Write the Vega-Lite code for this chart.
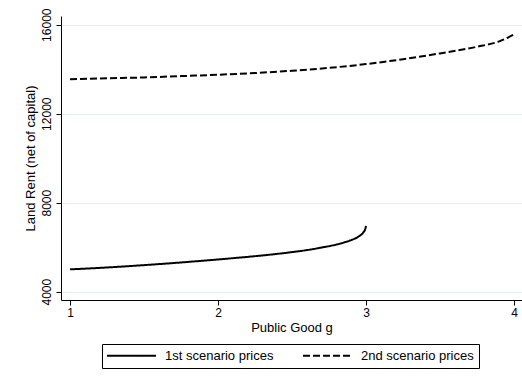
{
  "$schema": "https://vega.github.io/schema/vega-lite/v6.json",
  "width": 461,
  "height": 284,
  "autosize": {"type": "none"},
  "padding": {"left": 61, "top": 16, "right": 0, "bottom": 86},
  "background": "white",
  "config": {"view": {"stroke": null}, "font": "Liberation Sans"},
  "data": {
    "values": [
      {"series": "1st scenario prices", "g": 1.0, "rent": 5005},
      {"series": "1st scenario prices", "g": 1.2, "rent": 5070},
      {"series": "1st scenario prices", "g": 1.4, "rent": 5150},
      {"series": "1st scenario prices", "g": 1.6, "rent": 5240},
      {"series": "1st scenario prices", "g": 1.8, "rent": 5340},
      {"series": "1st scenario prices", "g": 2.0, "rent": 5450},
      {"series": "1st scenario prices", "g": 2.2, "rent": 5565},
      {"series": "1st scenario prices", "g": 2.4, "rent": 5700},
      {"series": "1st scenario prices", "g": 2.5, "rent": 5780},
      {"series": "1st scenario prices", "g": 2.6, "rent": 5870},
      {"series": "1st scenario prices", "g": 2.7, "rent": 5985},
      {"series": "1st scenario prices", "g": 2.8, "rent": 6120},
      {"series": "1st scenario prices", "g": 2.85, "rent": 6210},
      {"series": "1st scenario prices", "g": 2.9, "rent": 6320},
      {"series": "1st scenario prices", "g": 2.95, "rent": 6480},
      {"series": "1st scenario prices", "g": 2.98, "rent": 6650},
      {"series": "1st scenario prices", "g": 2.995, "rent": 6820},
      {"series": "1st scenario prices", "g": 3.0, "rent": 6960},
      {"series": "2nd scenario prices", "g": 1.0, "rent": 13550},
      {"series": "2nd scenario prices", "g": 1.25, "rent": 13590},
      {"series": "2nd scenario prices", "g": 1.5, "rent": 13630},
      {"series": "2nd scenario prices", "g": 1.75, "rent": 13690},
      {"series": "2nd scenario prices", "g": 2.0, "rent": 13750},
      {"series": "2nd scenario prices", "g": 2.25, "rent": 13830},
      {"series": "2nd scenario prices", "g": 2.5, "rent": 13930},
      {"series": "2nd scenario prices", "g": 2.75, "rent": 14060},
      {"series": "2nd scenario prices", "g": 3.0, "rent": 14230},
      {"series": "2nd scenario prices", "g": 3.25, "rent": 14450},
      {"series": "2nd scenario prices", "g": 3.5, "rent": 14710},
      {"series": "2nd scenario prices", "g": 3.75, "rent": 15010},
      {"series": "2nd scenario prices", "g": 3.9, "rent": 15250},
      {"series": "2nd scenario prices", "g": 4.0, "rent": 15560}
    ]
  },
  "mark": {"type": "line", "strokeWidth": 2, "color": "black", "interpolate": "monotone"},
  "encoding": {
    "x": {
      "field": "g",
      "type": "quantitative",
      "scale": {"domain": [0.939, 4.054], "nice": false, "zero": false},
      "axis": {
        "values": [1, 2, 3, 4],
        "format": "d",
        "title": "Public Good g",
        "grid": false,
        "domainColor": "black",
        "tickColor": "black",
        "tickSize": 5,
        "labelFontSize": 12,
        "labelColor": "black",
        "labelPadding": 2,
        "titleFontSize": 13,
        "titleFontWeight": "normal",
        "titleColor": "black",
        "titlePadding": 3
      }
    },
    "y": {
      "field": "rent",
      "type": "quantitative",
      "scale": {"domain": [3627, 16391], "nice": false, "zero": false},
      "axis": {
        "values": [4000, 8000, 12000, 16000],
        "format": "d",
        "title": "Land Rent (net of capital)",
        "grid": true,
        "gridColor": "#e6eef0",
        "gridWidth": 1,
        "domainColor": "black",
        "tickColor": "black",
        "tickSize": 5,
        "labelAngle": -90,
        "labelAlign": "center",
        "labelBaseline": "bottom",
        "labelFontSize": 12,
        "labelColor": "black",
        "labelPadding": 3,
        "titleFontSize": 13,
        "titleFontWeight": "normal",
        "titleColor": "black",
        "titlePadding": 3
      }
    },
    "strokeDash": {
      "field": "series",
      "type": "nominal",
      "scale": {"domain": ["1st scenario prices", "2nd scenario prices"], "range": [[1, 0], [7, 3]]},
      "legend": {
        "title": null,
        "orient": "none",
        "legendX": 41,
        "legendY": 328,
        "direction": "horizontal",
        "strokeColor": "black",
        "fillColor": "white",
        "padding": 5,
        "symbolType": "M-4.45,0L4.45,0",
        "symbolSize": 121,
        "symbolOffset": 18,
        "symbolStrokeWidth": 2,
        "symbolStrokeColor": "black",
        "labelFontSize": 13,
        "labelColor": "black",
        "labelOffset": 27,
        "columnPadding": 25,
        "labelLimit": 200
      }
    }
  }
}
